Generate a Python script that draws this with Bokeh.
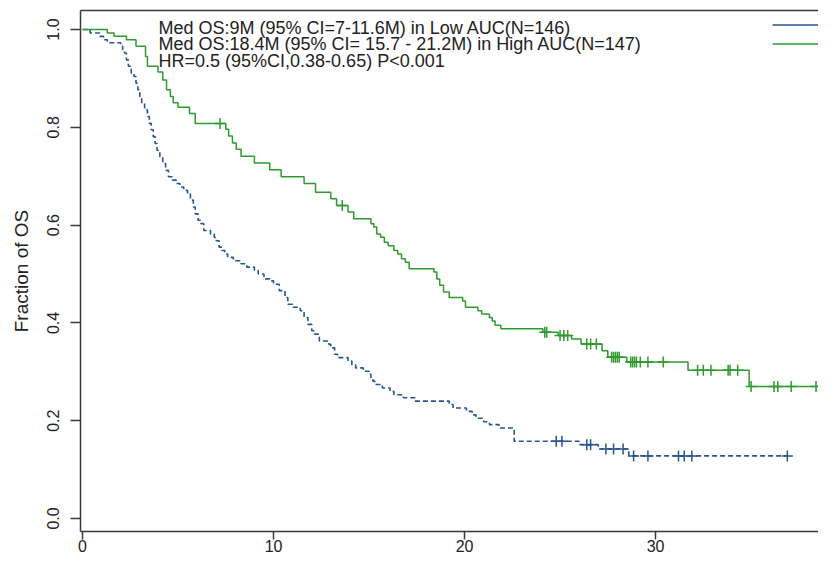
import numpy as np
from bokeh.plotting import figure
from bokeh.models import (FixedTicker, LinearAxis, Label, Legend, LegendItem, Range1d)
from bokeh.embed import file_html
from bokeh.resources import INLINE

# ---- data ----
# High AUC group (green, solid)
high_time = [0, 1.3, 1.65, 2.3, 2.8, 3.3, 3.4, 3.95, 4.2, 4.4, 4.6, 4.75, 5.0, 5.6, 5.9,
             7.5, 7.65, 7.85, 8.05, 8.3, 9.0, 9.8, 10.4, 11.6, 12.2, 13.0, 13.3, 13.9, 14.2,
             15.1, 15.25, 15.4, 15.6, 15.8, 16.0, 16.3, 16.5, 16.7, 16.9, 17.1, 18.4, 18.55,
             18.7, 18.9, 19.2, 19.9, 20.05, 20.7, 20.9, 21.3, 21.45, 21.6, 21.9, 24.1, 24.9,
             25.6, 26.1, 27.2, 27.5, 28.5, 31.7, 34.9, 38.8]
high_surv = [1.0, 0.993, 0.986, 0.979, 0.966, 0.945, 0.925, 0.913, 0.897, 0.877, 0.863, 0.85,
             0.841, 0.828, 0.808, 0.796, 0.782, 0.768, 0.755, 0.741, 0.727, 0.713, 0.699,
             0.685, 0.667, 0.654, 0.640, 0.627, 0.613, 0.603, 0.596, 0.582, 0.575, 0.565,
             0.558, 0.548, 0.541, 0.531, 0.524, 0.511, 0.504, 0.490, 0.477, 0.463, 0.452,
             0.445, 0.432, 0.425, 0.418, 0.411, 0.404, 0.395, 0.388, 0.381, 0.374, 0.367,
             0.357, 0.343, 0.330, 0.320, 0.303, 0.270, 0.270]
high_censor = [7.2, 13.6, 24.2, 24.3, 25.0, 25.2, 25.4, 26.4, 26.6, 26.9, 27.7, 27.8, 27.9,
               28.0, 28.1, 28.7, 28.8, 28.9, 29.0, 29.2, 29.6, 30.4, 32.2, 32.5, 32.9, 33.8,
               33.9, 34.3, 35.0, 36.2, 36.4, 37.1, 38.4]

# Low AUC group (blue, dashed)
low_time = [0, 0.4, 0.9, 1.1, 1.3, 2.0, 2.1, 2.2, 2.3, 2.4, 2.55, 2.7, 2.8, 2.9, 3.0, 3.1,
            3.25, 3.4, 3.5, 3.6, 3.7, 3.8, 3.9, 4.05, 4.2, 4.35, 4.5, 4.7, 4.9, 5.1, 5.3, 5.5,
            5.65, 5.8, 5.9, 6.05, 6.2, 6.35, 6.7, 6.9, 7.0, 7.15, 7.3, 7.45, 7.6, 7.9, 8.3,
            8.6, 9.0, 9.2, 9.5, 9.8, 10.0, 10.3, 10.6, 10.75, 11.0, 11.4, 11.6, 11.8, 12.0,
            12.15, 12.4, 12.9, 13.0, 13.2, 13.35, 13.9, 14.1, 14.3, 14.7, 15.0, 15.1, 15.2,
            15.3, 15.7, 16.1, 16.3, 16.8, 17.4, 19.2, 19.4, 20.1, 20.4, 20.6, 21.0, 21.3,
            21.8, 22.6, 26.0, 27.0, 28.6, 36.9]
low_surv = [1.0, 0.993, 0.986, 0.979, 0.973, 0.966, 0.959, 0.952, 0.938, 0.925, 0.911, 0.904,
            0.890, 0.877, 0.863, 0.849, 0.836, 0.822, 0.808, 0.795, 0.781, 0.767, 0.753,
            0.740, 0.726, 0.712, 0.699, 0.692, 0.685, 0.678, 0.671, 0.664, 0.651, 0.637,
            0.623, 0.610, 0.603, 0.589, 0.582, 0.575, 0.568, 0.555, 0.548, 0.541, 0.534,
            0.527, 0.521, 0.514, 0.507, 0.500, 0.490, 0.486, 0.479, 0.466, 0.452, 0.438,
            0.432, 0.425, 0.411, 0.397, 0.384, 0.377, 0.363, 0.356, 0.349, 0.336, 0.329,
            0.322, 0.315, 0.308, 0.301, 0.295, 0.288, 0.281, 0.274, 0.267, 0.260, 0.253,
            0.247, 0.240, 0.233, 0.226, 0.219, 0.212, 0.205, 0.198, 0.192, 0.185, 0.158,
            0.151, 0.142, 0.128, 0.128]
low_censor = [24.8, 25.1, 26.4, 26.6, 27.4, 27.8, 28.3, 28.85, 29.6, 31.2, 31.5, 31.9, 36.9]

x_ticks = [0, 10, 20, 30]
y_ticks = [0.0, 0.2, 0.4, 0.6, 0.8, 1.0]
y_tick_labels = ["0.0", "0.2", "0.4", "0.6", "0.8", "1.0"]
y_axis_title = "Fraction of OS"
annotation_lines = [
    "Med OS:9M (95% CI=7-11.6M) in Low AUC(N=146)",
    "Med OS:18.4M (95% CI= 15.7 - 21.2M) in High AUC(N=147)",
    "HR=0.5 (95%CI,0.38-0.65) P<0.001",
]

BLUE = "#27558f"
GREEN = "#2f9a2f"
AXIS = "#3a3a3a"
FONT = "Liberation Sans"


def surv_at(times, survs, t):
    times = np.asarray(times)
    survs = np.asarray(survs)
    idx = np.searchsorted(times, np.asarray(t), side="right") - 1
    return survs[idx]


p = figure(width=818, height=559, output_backend="svg", toolbar_location=None,
           x_range=Range1d(-0.105, 38.53), y_range=Range1d(-0.0266, 1.0389),
           min_border_left=80, min_border_right=0, min_border_top=10, min_border_bottom=28)
p.outline_line_color = None
p.grid.visible = False
p.background_fill_color = "white"
p.border_fill_color = "white"

# curves
p.step(low_time, low_surv, mode="after", line_color=BLUE, line_width=1.6, line_dash="5 3")
p.step(high_time, high_surv, mode="after", line_color=GREEN, line_width=1.5)

# censor marks
p.scatter(low_censor, surv_at(low_time, low_surv, low_censor), marker="cross",
          size=11, line_color=BLUE, line_width=1.5)
p.scatter(high_censor, surv_at(high_time, high_surv, high_censor), marker="cross",
          size=11, line_color=GREEN, line_width=1.5)

# axes
xa = p.xaxis[0]
xa.ticker = FixedTicker(ticks=x_ticks)
xa.minor_tick_line_color = None
xa.major_tick_out = 8
xa.major_tick_in = 0
xa.major_label_standoff = 0
xa.major_label_text_font = FONT
xa.major_label_text_font_size = "16px"
xa.major_label_text_color = "#222222"
xa.axis_line_color = AXIS
xa.axis_line_width = 1.5
xa.major_tick_line_color = AXIS
xa.major_tick_line_width = 1.5

ya = p.yaxis[0]
ya.ticker = FixedTicker(ticks=y_ticks)
ya.major_label_overrides = {t: s for t, s in zip(y_ticks, y_tick_labels)}
ya.minor_tick_line_color = None
ya.major_tick_out = 10
ya.major_tick_in = 0
ya.major_label_standoff = 11
ya.major_label_orientation = "vertical"
ya.major_label_text_font = FONT
ya.major_label_text_font_size = "16px"
ya.major_label_text_color = "#222222"
ya.axis_line_color = AXIS
ya.axis_line_width = 1.5
ya.major_tick_line_color = AXIS
ya.major_tick_line_width = 1.5
ya.axis_label = y_axis_title
ya.axis_label_text_font = FONT
ya.axis_label_text_font_size = "19px"
ya.axis_label_text_font_style = "normal"
ya.axis_label_text_color = "#222222"
ya.axis_label_standoff = 13

top = LinearAxis(ticker=FixedTicker(ticks=[]), major_tick_out=0, major_tick_in=0,
                 minor_tick_line_color=None, axis_line_color=AXIS, axis_line_width=1.5,
                 major_label_text_font_size="0px")
p.add_layout(top, "above")

# annotation text
for i, line in enumerate(annotation_lines):
    p.add_layout(Label(x=3.98, y=1.004 - i * 0.0345, text=line, text_font=FONT,
                       text_font_size="18px", text_color="#222222",
                       text_baseline="middle", text_align="left"))

# legend swatches (solid lines); proxy renderers hold a single NaN point (draw nothing)
r_low = p.line(x=[np.nan], y=[np.nan], line_color=BLUE, line_width=1.6)
r_high = p.line(x=[np.nan], y=[np.nan], line_color=GREEN, line_width=1.6)
legend = Legend(items=[LegendItem(label=" ", renderers=[r_low]),
                       LegendItem(label=" ", renderers=[r_high])],
                location=(692, 478), glyph_width=56, glyph_height=19, spacing=0,
                padding=0, margin=0, label_text_font_size="6px", label_standoff=0,
                border_line_color=None, background_fill_alpha=0)
p.add_layout(legend)

open("out.html", "w").write(file_html(p, INLINE))
